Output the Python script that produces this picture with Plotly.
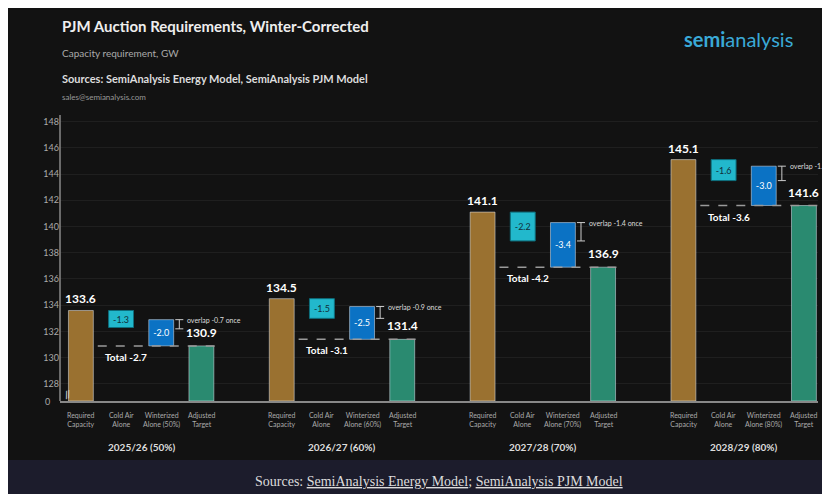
import plotly.graph_objects as go

# data
periods = ["2025/26 (50%)", "2026/27 (60%)", "2027/28 (70%)", "2028/29 (80%)"]
winter_pct = ["50%", "60%", "70%", "80%"]
required = [133.6, 134.5, 141.1, 145.1]
cold_air = [-1.3, -1.5, -2.2, -1.6]
winterized = [-2.0, -2.5, -3.4, -3.0]
adjusted = [130.9, 131.4, 136.9, 141.6]
totals = [-2.7, -3.1, -4.2, -3.6]
overlaps = [-0.7, -0.9, -1.4, -1.1]
y_ticks = [128, 130, 132, 134, 136, 138, 140, 142, 144, 146, 148]

Y0 = 126.7
ORANGE = "#9a7130"
CYAN = "#22b8cc"
BLUE = "#0b72c4"
GREEN = "#2a8a70"
BG = "#121212"

fig = go.Figure()
xs = [g * 5 for g in range(4)]

fig.add_trace(go.Bar(x=[x for x in xs], y=[r - Y0 for r in required], base=Y0,
                     marker_color=ORANGE, width=0.62, hoverinfo="skip"))
fig.add_trace(go.Bar(x=[x + 1 for x in xs], y=[-c for c in cold_air],
                     base=[r + c for r, c in zip(required, cold_air)],
                     marker=dict(color=CYAN, line=dict(color="#0e6e7c", width=1)), width=0.62,
                     text=["%.1f" % c for c in cold_air], textposition="inside",
                     insidetextanchor="middle", textangle=0,
                     textfont=dict(color="#10303a", size=9, family="Lato"), hoverinfo="skip"))
fig.add_trace(go.Bar(x=[x + 2 for x in xs], y=[-w for w in winterized], base=adjusted,
                     marker_color=BLUE, width=0.62,
                     text=["%.1f" % w for w in winterized], textposition="inside",
                     insidetextanchor="middle", textangle=0,
                     textfont=dict(color="white", size=9, family="Lato"), hoverinfo="skip"))
fig.add_trace(go.Bar(x=[x + 3 for x in xs], y=[a - Y0 for a in adjusted], base=Y0,
                     marker_color=GREEN, width=0.62, hoverinfo="skip"))

shapes = []
ann = []
for g, x in enumerate(xs):
    a = adjusted[g]
    wtop = a - winterized[g]
    shapes.append(dict(type="line", x0=x + 0.42, x1=x + 3.42, y0=a, y1=a,
                       line=dict(color="#9a9a9a", width=1.5, dash="dash")))
    # overlap bracket
    bx = x + 2.45
    for yy in (wtop, wtop + overlaps[g]):
        shapes.append(dict(type="line", x0=bx - 0.1, x1=bx + 0.1, y0=yy, y1=yy,
                           line=dict(color="#cccccc", width=1)))
    shapes.append(dict(type="line", x0=bx, x1=bx, y0=wtop, y1=wtop + overlaps[g],
                       line=dict(color="#cccccc", width=1)))
    ann.append(dict(x=bx + 0.15, y=wtop, text="overlap %.1f once" % overlaps[g],
                    showarrow=False, xanchor="left", yanchor="middle",
                    font=dict(size=7, color="#dddddd")))
    ann.append(dict(x=x, y=required[g], text="<b>%.1f</b>" % required[g], showarrow=False,
                    yanchor="bottom", yshift=2, font=dict(size=12, color="white")))
    ann.append(dict(x=x + 3, y=a, text="<b>%.1f</b>" % a, showarrow=False,
                    yanchor="bottom", yshift=4, font=dict(size=12, color="white")))
    ann.append(dict(x=x + 0.55, y=a, text="<b>Total %.1f</b>" % totals[g], showarrow=False,
                    xanchor="left", yanchor="top", yshift=-3, font=dict(size=10, color="white")))
    labels = ["Required<br>Capacity", "Cold Air<br>Alone",
              "Winterized<br>Alone (%s)" % winter_pct[g], "Adjusted<br>Target"]
    for i, lab in enumerate(labels):
        ann.append(dict(x=x + i, y=0, yref="paper", text=lab, showarrow=False,
                        yanchor="top", yshift=-8, font=dict(size=7, color="#aaaaaa")))
    ann.append(dict(x=x + 1.5, y=0, yref="paper", text="<b>%s</b>" % periods[g], showarrow=False,
                    yanchor="top", yshift=-38, font=dict(size=10, color="#dddddd")))

# axis break marks and zero label
ann.append(dict(x=0, xref="paper", y=Y0, text="0", showarrow=False, xanchor="right",
                xshift=-8, font=dict(size=9, color="#aaaaaa")))
ann.append(dict(x=0, xref="paper", y=Y0 + 0.5, text="<b>//</b>", showarrow=False,
                textangle=-20, font=dict(size=10, color="#cccccc")))
ann.append(dict(x=0, xref="paper", y=148.6, text="GW", showarrow=False, xanchor="right",
                yanchor="bottom", xshift=-6, yshift=4, font=dict(size=9, color="#aaaaaa")))

# header texts (paper coords above the plot)
head = [
    (1.348, "<b>PJM Auction Requirements, Winter-Corrected</b>", 15, "#eeeeee"),
    (1.245, "Capacity requirement, GW", 10, "#aaaaaa"),
    (1.158, "<b>Sources: SemiAnalysis Energy Model, SemiAnalysis PJM Model</b>", 11, "#dddddd"),
    (1.089, "sales@semianalysis.com", 8, "#999999"),
]
for hy, t, s, c in head:
    ann.append(dict(x=0.0, y=hy, xref="paper", yref="paper", text=t, showarrow=False,
                    xanchor="left", yanchor="top", font=dict(size=s, color=c)))
ann.append(dict(x=0.97, y=1.314, xref="paper", yref="paper",
                text="<b>semi</b>analysis", showarrow=False, xanchor="right", yanchor="top",
                font=dict(size=20, color="#3aa9d6", family="Lato")))
ann.append(dict(x=0.5, y=-0.283, xref="paper", yref="paper", yanchor="middle",
                text="Sources: <u>SemiAnalysis Energy Model</u>; <u>SemiAnalysis PJM Model</u>",
                showarrow=False, font=dict(size=14, color="#dddddd", family="Liberation Serif")))
shapes.append(dict(type="rect", xref="paper", yref="paper", x0=-0.1, x1=1.1, y0=-0.206, y1=-0.36,
                   fillcolor="#1c1c2c", line_width=0, layer="below"))
shapes.append(dict(type="line", xref="paper", x0=0, x1=0, y0=Y0, y1=148.7,
                   line=dict(color="#888888", width=1.5)))

fig.update_layout(
    width=830, height=494, showlegend=False, barmode="overlay",
    paper_bgcolor=BG, plot_bgcolor=BG, font=dict(family="Lato", color="#aaaaaa"),
    margin=dict(l=52, r=20, t=107, b=101),
    xaxis=dict(range=[-0.52, 18.35], showticklabels=False, showgrid=False, zeroline=False,
               showline=True, linecolor="#888888", linewidth=1.5),
    yaxis=dict(range=[Y0, 148.5], tickvals=y_ticks, gridcolor="#1f1f1f", zeroline=False,
               tickfont=dict(size=9, color="#aaaaaa")),
    shapes=shapes, annotations=ann,
)

fig.write_html("out.html")
